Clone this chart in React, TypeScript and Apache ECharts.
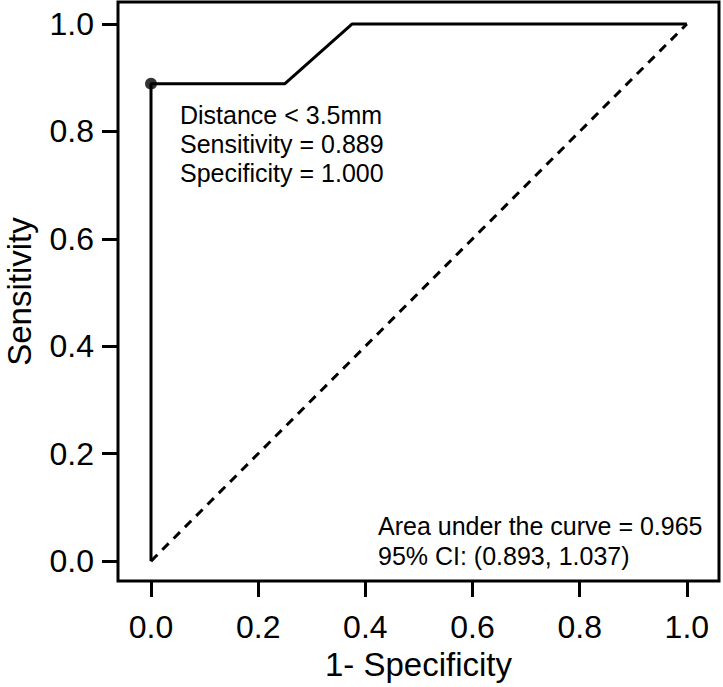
import React, { useEffect, useRef } from "react";
import * as echarts from "echarts";

const rocX = [0, 0, 0.25, 0.375, 1];
const rocY = [0, 0.889, 0.889, 1, 1];
const cutoffPoint = [0, 0.889];
const diagX = [0, 1];
const diagY = [0, 1];
const tickValues = [0, 0.2, 0.4, 0.6, 0.8, 1.0];
const cutoffText = ["Distance < 3.5mm", "Sensitivity = 0.889", "Specificity = 1.000"];
const aucText = ["Area under the curve = 0.965", "95% CI: (0.893, 1.037)"];
const xTitle = "1- Specificity";
const yTitle = "Sensitivity";

const FONT = "'Liberation Sans', Arial, Helvetica, sans-serif";

export default function App() {
  const ref = useRef<HTMLDivElement>(null);
  useEffect(() => {
    if (!ref.current) return;
    const chart = echarts.init(ref.current, undefined, { renderer: "svg" });
    const axisCommon = {
      type: "value" as const,
      splitLine: { show: false },
      axisLine: { show: false, onZero: false },
      axisTick: {
        show: true,
        inside: false,
        length: 16,
        customValues: tickValues,
        lineStyle: { color: "#000", width: 3 },
      },
      nameLocation: "middle" as const,
      nameTextStyle: { color: "#000", fontSize: 33, fontFamily: FONT },
    };
    chart.setOption({
      animation: false,
      backgroundColor: "#fff",
      grid: {
        left: 118,
        right: 4,
        top: 2,
        bottom: 106,
        show: true,
        borderColor: "#000",
        borderWidth: 3,
        backgroundColor: "transparent",
        containLabel: false,
        outerBoundsMode: "none",
      },
      xAxis: {
        ...axisCommon,
        min: -0.0616,
        max: 1.06,
        name: xTitle,
        nameGap: 66,
        axisLabel: {
          customValues: tickValues,
          formatter: (v: number) => v.toFixed(1),
          color: "#000",
          fontSize: 32,
          fontFamily: FONT,
          margin: 30,
        },
      },
      yAxis: {
        ...axisCommon,
        min: -0.037,
        max: 1.041,
        name: yTitle,
        nameGap: 82,
        axisLabel: {
          customValues: tickValues,
          formatter: (v: number) => v.toFixed(1),
          color: "#000",
          fontSize: 32,
          fontFamily: FONT,
          margin: 24,
        },
      },
      series: [
        {
          type: "line",
          data: diagX.map((x, i) => [x, diagY[i]]),
          symbol: "none",
          lineStyle: { color: "#000", width: 3, type: [9, 7] },
          z: 2,
        },
        {
          type: "line",
          data: rocX.map((x, i) => [x, rocY[i]]),
          symbol: "none",
          lineStyle: { color: "#000", width: 3 },
          z: 3,
        },
        {
          type: "scatter",
          data: [cutoffPoint],
          symbolSize: 12,
          itemStyle: { color: "#000" },
          z: 4,
        },
      ],
      graphic: [
        {
          type: "text",
          left: 180,
          top: 100,
          style: {
            text: cutoffText.join("\n"),
            font: `25px ${FONT}`,
            lineHeight: 29,
            fill: "#000",
          },
        },
        {
          type: "text",
          left: 378,
          top: 511,
          style: {
            text: aucText.join("\n"),
            font: `25px ${FONT}`,
            lineHeight: 30,
            fill: "#000",
          },
        },
      ],
    });
    return () => chart.dispose();
  }, []);
  return <div ref={ref} style={{ width: 723, height: 687, position: "absolute", left: 0, top: 0 }} />;
}
